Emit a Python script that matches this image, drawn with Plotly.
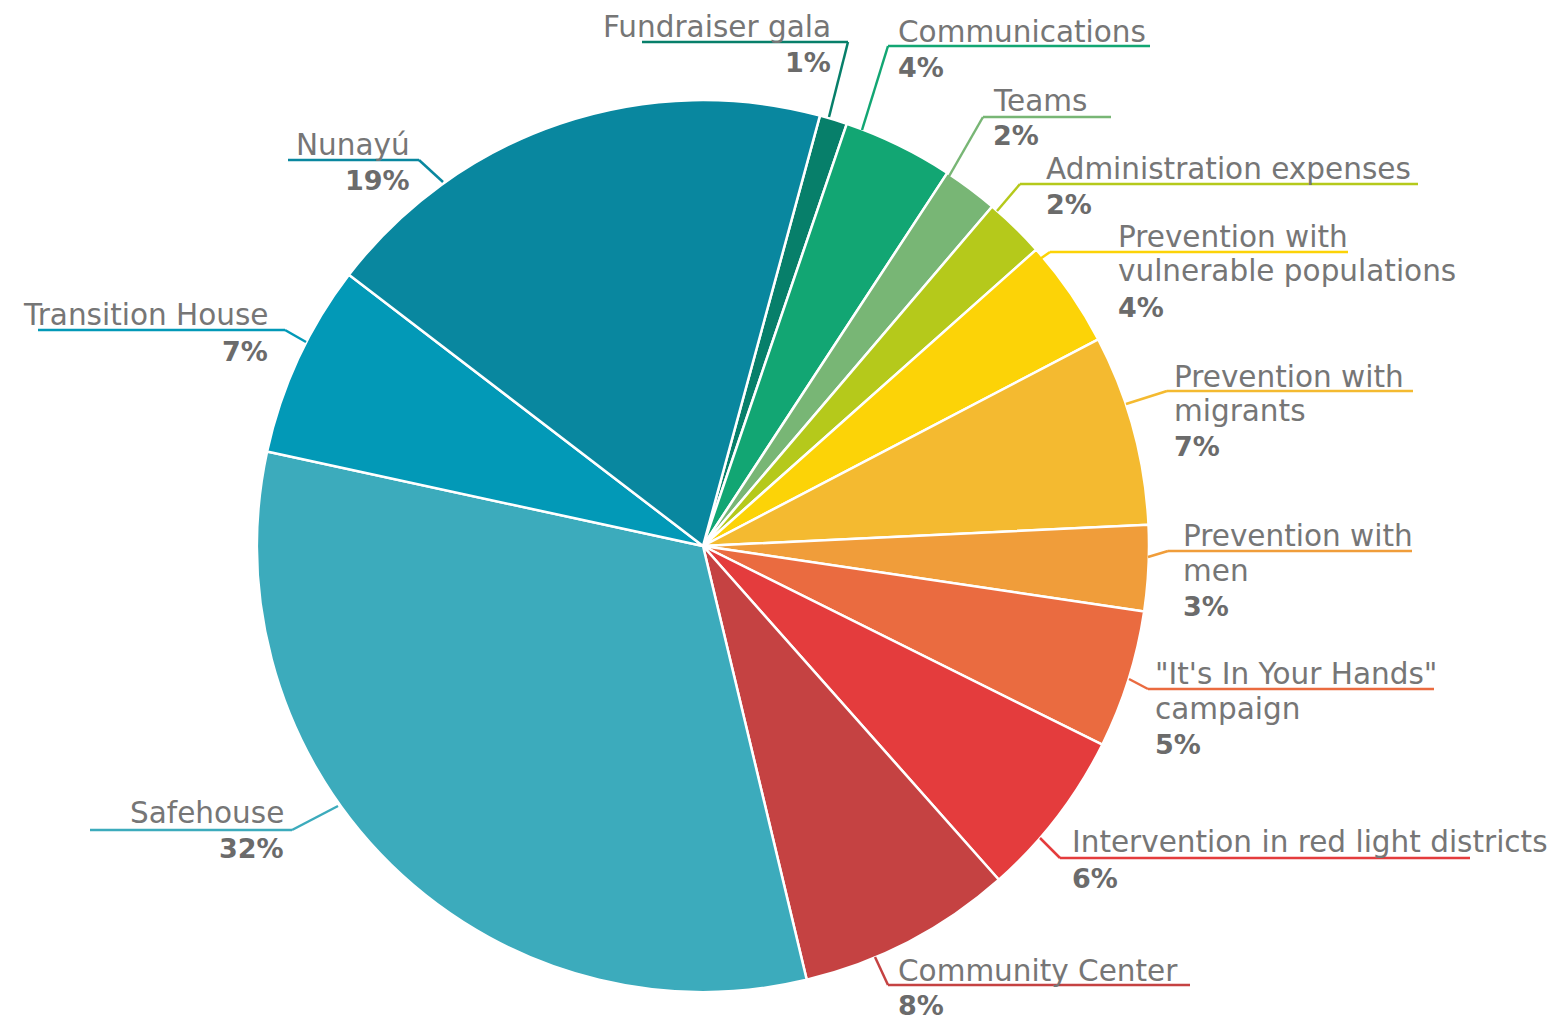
import plotly.graph_objects as go

W, H = 1568, 1019
OFF = 8  # page body margin offset compensation

# ---- data ----
categories = ["Fundraiser gala", "Communications", "Teams", "Administration expenses",
              "Prevention with vulnerable populations", "Prevention with migrants",
              "Prevention with men", "\"It's In Your Hands\" campaign",
              "Intervention in red light districts", "Community Center",
              "Safehouse", "Transition House", "Nunayú"]
values = [1.0, 4.0, 2.0, 2.2, 3.9, 6.9, 3.1, 5.0, 6.1, 7.8, 32.1, 7.0, 18.8]
display_lines = [["Fundraiser gala"], ["Communications"], ["Teams"], ["Administration expenses"],
                 ["Prevention with", "vulnerable populations"], ["Prevention with", "migrants"],
                 ["Prevention with", "men"], ["\"It's In Your Hands\"", "campaign"],
                 ["Intervention in red light districts"], ["Community Center"],
                 ["Safehouse"], ["Transition House"], ["Nunayú"]]
colors = ["#077F6A", "#12A673", "#78B675", "#B5C91B", "#FCD307", "#F4BA30",
          "#F09D3A", "#EA6B40", "#E43C3D", "#C54242", "#3CABBC", "#0299B7", "#09879F"]

# ---- layout of labels (pixel positions) ----
# anchor on slice edge, elbow, underline end x, text x, align, line ys, pct y
label_layout = [
    ((829, 117), (848, 42), 642, 833, "right", [27], 62),
    ((862, 130), (888, 46), 1150, 896, "left", [32], 67),
    ((948, 178), (983, 117), 1111, 991, "left", [101], 136),
    ((997, 211), (1020, 184), 1418, 1044, "left", [169], 205),
    ((1040, 259), (1050, 252), 1348, 1116, "left", [237, 271], 307),
    ((1126, 404), (1167, 391), 1413, 1172, "left", [377, 411], 447),
    ((1148, 557), (1168, 551), 1412, 1181, "left", [536, 571], 606),
    ((1129, 679), (1148, 689), 1434, 1153, "left", [674, 709], 744),
    ((1040, 838), (1060, 858), 1470, 1070, "left", [842], 878),
    ((875, 957), (888, 985), 1190, 896, "left", [971], 1005),
    ((338, 806), (292, 830), 90, 286, "right", [813], 848),
    ((306, 342), (285, 330), 38, 270, "right", [315], 351),
    ((443, 182), (419, 160), 288, 412, "right", [145], 181),
]

cx, cy, R = 703, 546, 446


def px(x):
    return (x - OFF) / W


def py(y):
    return 1 - (y - OFF) / H


total = sum(values)
fig = go.Figure(go.Pie(
    labels=categories, values=values, sort=False, direction="clockwise",
    rotation=15.2,
    marker=dict(colors=colors, line=dict(color="white", width=2.5)),
    textinfo="none", hoverinfo="label+percent",
    domain=dict(x=[px(cx - R), px(cx + R)], y=[py(cy + R), py(cy - R)]),
    showlegend=False,
))

shapes = []
annotations = []
label_font = dict(family="DejaVu Sans", size=29.5, color="#767676")
pct_font = dict(family="DejaVu Sans", size=27, color="#6B6B6B")

for i, (anchor, elbow, endx, tx, align, ys, pcty) in enumerate(label_layout):
    c = colors[i]
    shapes.append(dict(type="line", xref="paper", yref="paper",
                       x0=px(anchor[0]), y0=py(anchor[1]), x1=px(elbow[0]), y1=py(elbow[1]),
                       line=dict(color=c, width=2.5)))
    shapes.append(dict(type="line", xref="paper", yref="paper",
                       x0=px(elbow[0]), y0=py(elbow[1]), x1=px(endx), y1=py(elbow[1]),
                       line=dict(color=c, width=2.5)))
    for line, ly in zip(display_lines[i], ys):
        annotations.append(dict(xref="paper", yref="paper", x=px(tx), y=py(ly),
                                text=line, showarrow=False, xanchor=align, yanchor="middle",
                                font=label_font))
    pct = round(values[i] / total * 100)
    annotations.append(dict(xref="paper", yref="paper", x=px(tx), y=py(pcty),
                            text=f"<b>{pct}%</b>", showarrow=False, xanchor=align,
                            yanchor="middle", font=pct_font))

fig.update_layout(width=W, height=H, margin=dict(l=0, r=0, t=0, b=0),
                  paper_bgcolor="white", plot_bgcolor="white",
                  shapes=shapes, annotations=annotations)

fig.write_html("out.html")
